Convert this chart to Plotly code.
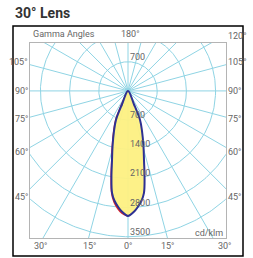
import numpy as np
import plotly.graph_objects as go

W, H = 253, 258

# ---- data ----
gamma_deg = [0, 2.8, 4.9, 7.0, 8.9, 10.9, 12.9, 15.5, 19.3, 22.5, 24, 25.5]
c0_intensity = [3000, 2905, 2790, 2655, 2475, 2100, 1720, 1390, 1015, 750, 350, 0]    # blue curve
c90_intensity = [3000, 2935, 2830, 2690, 2490, 2100, 1720, 1390, 1015, 750, 350, 0]   # red curve (left side)
ring_values = [700, 1400, 2100, 2800, 3500]
ring_labels = ["700", "1400", "2100", "2800", "3500"]
spoke_step = 15
left_labels = ["105°", "90°", "75°", "60°", "45°"]
right_labels = ["120°", "105°", "90°", "75°", "60°", "45°"]
bottom_labels = ["30°", "15°", "0°", "15°", "30°"]

GRID = "#8fd4e4"
TXT = "#666666"
FONT = "Roboto"

# axes geometry (pixels)
px_left, px_right, px_top, px_bot = 30, 226, 43, 238
XR = [-2350, 2350]
YR = [-3530, 1150]

fig = go.Figure()

# rings
t = np.linspace(0, 2 * np.pi, 361)
for r in ring_values:
    fig.add_trace(go.Scatter(x=r * np.cos(t), y=r * np.sin(t), mode="lines",
                             line=dict(color=GRID, width=1), hoverinfo="skip", showlegend=False))
# spokes
for a in range(0, 360, spoke_step):
    ar = np.radians(a)
    fig.add_trace(go.Scatter(x=[0, 6000 * np.sin(ar)], y=[0, -6000 * np.cos(ar)], mode="lines",
                             line=dict(color=GRID, width=1), hoverinfo="skip", showlegend=False))


def curve(g, inten):
    g = np.array(g, float)
    i = np.array(inten, float)
    gg = np.concatenate([-g[::-1], g[1:]])
    ii = np.concatenate([i[::-1], i[1:]])
    rad = np.radians(gg)
    return ii * np.sin(rad), -ii * np.cos(rad)

# red curve (visible only on the left side)
gr = np.array(gamma_deg, float)
rx_l = -np.array(c90_intensity) * np.sin(np.radians(gr))
ry_l = -np.array(c90_intensity) * np.cos(np.radians(gr))
fig.add_trace(go.Scatter(x=rx_l, y=ry_l, mode="lines",
                         line=dict(color="#e0262b", width=2, shape="spline", smoothing=1),
                         hoverinfo="skip", showlegend=False))

bx, by = curve(gamma_deg, c0_intensity)
fig.add_trace(go.Scatter(x=bx, y=by, mode="lines", fill="toself", fillcolor="rgba(253,240,130,0.95)",
                         line=dict(color="#2e3192", width=2, shape="spline", smoothing=1),
                         hoverinfo="skip", showlegend=False))

ann = []
# ring labels
for v, lab in zip(ring_values, ring_labels):
    ann.append(dict(x=0, y=-v, text=lab, xref="x", yref="y", showarrow=False, xanchor="left",
                    yanchor="bottom", xshift=0, yshift=-2, font=dict(size=9, color=TXT, family=FONT)))
ann.append(dict(x=0, y=ring_values[0], text=ring_labels[0], xref="x", yref="y", showarrow=False,
                xanchor="left", yanchor="bottom", yshift=-2, font=dict(size=9, color=TXT, family=FONT)))


def P(x, y, text, xa="center", ya="middle", size=9):
    ann.append(dict(x=x / W, y=1 - y / H, xref="paper", yref="paper", text=text, showarrow=False,
                    xanchor=xa, yanchor=ya, font=dict(size=size, color=TXT, family=FONT)))

left_y = [62, 91, 119, 152, 197]
for lab, yy in zip(left_labels, left_y):
    P(30, yy, lab, xa="right")
right_y = [36, 62, 91, 119, 152, 197]
for lab, yy in zip(right_labels, right_y):
    P(226, yy, lab, xa="left")
bottom_x = [40, 89, 128, 167, 224]
for lab, xx in zip(bottom_labels, bottom_x):
    P(xx, 246, lab)
P(31, 34, "Gamma Angles", xa="left")
P(130, 34, "180°")
P(225, 233, "cd/klm", xa="right")

ann.append(dict(x=13 / W, y=1 - 13 / H, xref="paper", yref="paper", text="<b>30° Lens</b>",
                showarrow=False, xanchor="left", yanchor="middle",
                font=dict(size=14, color="#333333", family=FONT)))

fig.update_layout(
    width=W, height=H, margin=dict(l=0, r=0, t=0, b=0),
    paper_bgcolor="white", plot_bgcolor="white",
    xaxis=dict(range=XR, domain=[px_left / W, px_right / W], showgrid=False, zeroline=False,
               showticklabels=False, ticks="", showline=True, mirror=True, linecolor="#b4b4b4", linewidth=1),
    yaxis=dict(range=YR, domain=[1 - px_bot / H, 1 - px_top / H], showgrid=False, zeroline=False,
               showticklabels=False, ticks="", showline=True, mirror=True, linecolor="#b4b4b4", linewidth=1),
    annotations=ann,
    shapes=[dict(type="rect", xref="paper", yref="paper", x0=13 / W, x1=243 / W, y0=1 - 256 / H,
                 y1=1 - 26 / H, line=dict(color="black", width=1.5))],
)

fig.write_html("out.html", config={"displayModeBar": False},
               post_script="document.body.style.margin='0';document.body.style.overflow='hidden';")
